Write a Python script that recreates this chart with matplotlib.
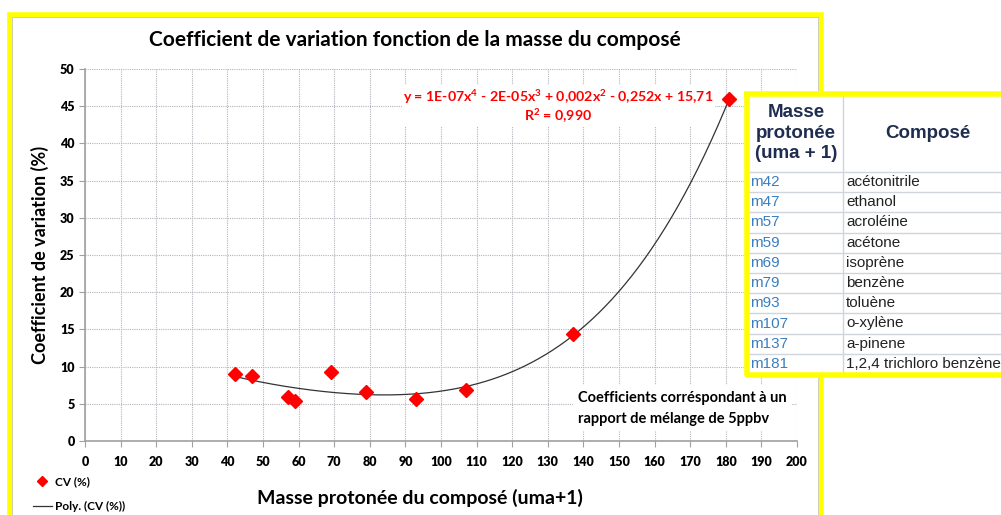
import numpy as np
import matplotlib.pyplot as plt
from matplotlib.patches import Rectangle
from matplotlib.lines import Line2D

# données
masses = [42, 47, 57, 59, 69, 79, 93, 107, 137, 181]
cv = [9.0, 8.7, 5.9, 5.4, 9.3, 6.6, 5.7, 6.9, 14.4, 46.0]
composes = ['acétonitrile', 'ethanol', 'acroléine', 'acétone', 'isoprène',
            'benzène', 'toluène', 'o-xylène', 'a-pinene', '1,2,4 trichloro benzène']

equation = 'y = 1E-07x$^4$ - 2E-05x$^3$ + 0,002x$^2$ - 0,252x + 15,71'
r2 = 'R$^2$ = 0,990'

plt.rcParams['font.family'] = ['Lato', 'DejaVu Sans']
plt.rcParams['mathtext.fontset'] = 'custom'
plt.rcParams['mathtext.rm'] = 'Lato:bold'
plt.rcParams['mathtext.bf'] = 'Lato:bold'

fig = plt.figure(figsize=(10.01, 5.15), dpi=100)
W, H = 1001, 515

def fx(px):
    return px / W

def fy(py):
    return 1 - py / H

# cadre jaune du graphique
fig.patches.append(Rectangle((fx(9.5), fy(530)), fx(811), (530 - 14.5) / H, transform=fig.transFigure,
                             fill=False, edgecolor='#ffff00', linewidth=4, zorder=0))
fig.patches.append(Rectangle((fx(12), fy(530)), fx(806), (530 - 17) / H, transform=fig.transFigure,
                             fill=False, edgecolor='#c8c8c8', linewidth=0.6, zorder=0))

ax = fig.add_axes([fx(85), fy(441), fx(797 - 85), (441 - 69) / H])

# courbe de tendance polynomiale (ordre 4)
coef = np.polyfit(masses, cv, 4)
xs = np.linspace(min(masses), max(masses), 300)
ax.plot(xs, np.polyval(coef, xs), color='#333333', linewidth=0.9, zorder=3)
ax.plot(masses, cv, linestyle='none', marker='D', markersize=7, color='#ff0000', zorder=4)

ax.set_xlim(0, 200)
ax.set_ylim(0, 50)
ax.set_xticks(range(0, 201, 10))
ax.set_yticks(range(0, 51, 5))
ax.grid(True, color='#b4b4bc', linestyle=(0, (1, 1)), linewidth=0.8)
ax.set_axisbelow(True)
for s in ['top', 'right']:
    ax.spines[s].set_visible(False)
for s in ['left', 'bottom']:
    ax.spines[s].set_color('#a0a0a0')
    ax.spines[s].set_linewidth(1.2)
ax.tick_params(axis='both', colors='#a0a0a0', length=4, labelcolor='black', labelsize=9)
for lab in ax.get_xticklabels() + ax.get_yticklabels():
    lab.set_fontweight('heavy')
ax.tick_params(axis='x', pad=7)

fig.text(fx(415), fy(40), 'Coefficient de variation fonction de la masse du composé',
         ha='center', va='center', fontsize=15, fontweight='bold')
fig.text(fx(420), fy(498), 'Masse protonée du composé (uma+1)',
         ha='center', va='center', fontsize=14, fontweight='bold')
fig.text(fx(40), fy(255), 'Coefficient de variation (%)', rotation=90,
         ha='center', va='center', fontsize=13, fontweight='bold')

ax.text(133, 45.0, equation + '\n' + r2, ha='center', va='center', color='#ff0000',
        fontsize=10.2, fontweight='bold', linespacing=1.1,
        bbox=dict(facecolor='white', edgecolor='none', pad=1), zorder=2)
ax.text(138.5, 4.4, 'Coefficients corréspondant à un\nrapport de mélange de 5ppbv',
        ha='left', va='center', fontsize=10.5, fontweight='bold', linespacing=1.6,
        bbox=dict(facecolor='white', edgecolor='none', pad=4), zorder=2)

handles = [Line2D([], [], linestyle='none', marker='D', markersize=5, color='#ff0000'),
           Line2D([], [], color='#333333', linewidth=0.9)]
leg = fig.legend(handles, ['CV (%)', 'Poly. (CV (%))'], loc='lower left',
                 bbox_to_anchor=(fx(22), fy(523)), frameon=False, handlelength=1.6,
                 handletextpad=0.3, labelspacing=1.2, prop={'weight': 'bold', 'size': 8.5})

# tableau des composés
tab = fig.add_axes([fx(745), fy(376), fx(W - 745), (376 - 92) / H])
tab.set_zorder(10)
tab.set_xlim(0, W - 745)
tab.set_ylim(376 - 92, 0)
tab.axis('off')
tab.add_patch(Rectangle((0, 0), W - 745, 376 - 92, facecolor='white', edgecolor='none', zorder=0))
head_h = 78
row_h = (376 - 92 - 4 - head_h) / len(masses)
col1 = 98
y0 = 2
tab.text(col1 / 2 + 2, y0 + head_h / 2, 'Masse\nprotonée\n(uma + 1)', ha='center', va='center',
         fontsize=13.5, fontweight='bold', color='#1f2d50', family='Liberation Sans', linespacing=1.25)
tab.text(183, y0 + head_h / 2, 'Composé', ha='center', va='center',
         fontsize=13.5, fontweight='bold', color='#1f2d50', family='Liberation Sans')
tab.plot([col1, col1], [y0, 376 - 92 - 2], color='#d0d4dc', linewidth=1)
for i, (m, c) in enumerate(zip(masses, composes)):
    yt = y0 + head_h + i * row_h
    tab.plot([2, W - 745], [yt, yt], color='#d0d4dc', linewidth=1)
    tab.text(5, yt + row_h / 2, f'm{m}', ha='left', va='center', fontsize=11,
             color='#3a7ec0', family='Liberation Sans')
    tab.text(col1 + 3, yt + row_h / 2, c, ha='left', va='center', fontsize=11,
             color='#222222', family='Liberation Sans')
tab.plot([1.5, 1.5, W - 745 + 5], [0, 376 - 92 - 1.5, 376 - 92 - 1.5], color='#ffff00',
         linewidth=4, solid_capstyle='butt', clip_on=False)
tab.plot([1.5, W - 745 + 5], [1.5, 1.5], color='#ffff00', linewidth=4, clip_on=False)

fig.savefig('out.png', dpi=100, facecolor='white')
